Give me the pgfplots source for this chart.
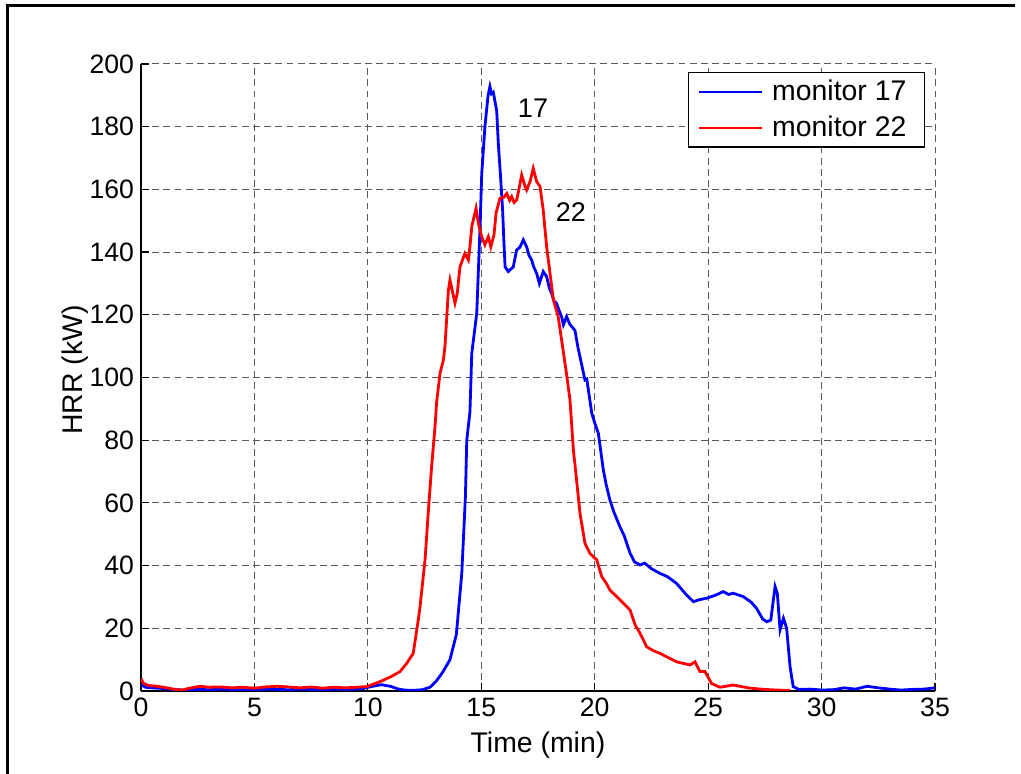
\documentclass[border=0pt]{standalone}
\usepackage{pgfplots}
\pgfplotsset{compat=1.18}
\usepackage{fontspec}
\setmainfont{Liberation Sans}
\begin{document}
\begin{tikzpicture}
\useasboundingbox (0,0) rectangle (510.5pt,387pt);
\draw[line width=1.5pt] (3.5pt,0pt) -- (3.5pt,384.2pt) -- (507.5pt,384.2pt);
\begin{axis}[
  at={(70.5pt,41.5pt)}, anchor=south west,
  scale only axis, width=397pt, height=313.5pt,
  xmin=0, xmax=35, ymin=0, ymax=200,
  xtick={0,5,...,35}, ytick={0,20,...,200},
  axis x line*=bottom, axis y line*=left,
  axis line style={line width=0.75pt, black},
  tick style={line width=0.6pt, black},
  tick align=inside, major tick length=4pt,
  grid=major,
  major grid style={dash pattern=on 3.4pt off 2.2pt, black!65, line width=0.5pt},
  /pgf/number format/assume math mode=true,
  tick label style={font=\fontsize{13.3}{15}\selectfont},
  label style={font=\fontsize{14.2}{16}\selectfont},
  xlabel={Time (min)}, ylabel={HRR (kW)},
  xlabel style={at={(axis description cs:0.5,-0.086)}, anchor=center},
  ylabel style={at={(axis description cs:-0.083,0.512)}, anchor=center, rotate=0},
  legend style={at={(axis description cs:0.9874,0.987)}, anchor=north east,
    font=\fontsize{14.2}{16}\selectfont, draw=black, line width=0.6pt,
    inner xsep=4.5pt, inner ysep=0.6pt, row sep=0pt,
    nodes={inner xsep=4.5pt, inner ysep=3.1pt}},
  legend cell align=left,
  legend image code/.code={\path (-2.5pt,0pt) -- (29pt,0pt);\draw[#1, line width=1.4pt] (0pt,0pt) -- (25pt,0pt);},
  every axis plot/.append style={line width=1.4pt},
]
\addplot[blue] coordinates {
(0,2.0) (0.2,1.2) (0.5,1.0) (1.0,0.8) (1.5,0.4) (2.0,0.3) (2.5,0.5) (3.0,0.4)
(3.5,0.6) (4.0,0.5) (4.5,0.4) (5.0,0.3) (5.5,0.6) (6.0,0.5) (6.5,0.4) (7.0,0.6)
(7.5,0.5) (8.0,0.4) (8.5,0.6) (9.0,0.5) (9.5,0.6) (9.8,0.8) (10.2,1.5) (10.6,2.0)
(11.0,1.5) (11.3,0.7) (11.6,0.3) (12.0,0.2) (12.4,0.4) (12.74,1.2) (13.0,3) (13.3,6)
(13.62,10) (13.9,18) (14.14,37.5) (14.3,62) (14.36,80) (14.5,89) (14.58,107.7)
(14.8,120.5) (14.94,147) (15.02,165) (15.16,180) (15.3,190) (15.38,192.8) (15.45,190.5) (15.53,191)
(15.68,185) (15.75,174.7) (15.85,164) (15.94,153.4) (16.0,142.8) (16.05,135.3)
(16.19,133.8) (16.41,135.3) (16.56,140.7) (16.7,141.5) (16.85,143.9) (17.0,141.7) (17.1,139) (17.22,137.5)
(17.3,135.5) (17.44,133.2) (17.56,130) (17.73,133.8) (17.88,132.2) (18.0,128.5) (18.1,126.8) (18.2,124.5) (18.32,123.6)
(18.45,121) (18.54,119.4) (18.62,116.8) (18.76,119.4) (18.9,117) (19.13,115) (19.25,110) (19.35,106.6) (19.57,99.2)
(19.65,99.5) (19.87,88.6) (20.0,85.5) (20.16,82.2) (20.38,70.5) (20.5,66) (20.67,60.9) (20.85,57) (21.11,52.4) (21.3,49.5) (21.56,43.9)
(21.75,41.2) (22.0,40.2) (22.2,40.8) (22.5,39) (22.88,37.5) (23.2,36.5) (23.61,34.3) (24.0,31) (24.35,28.5) (24.6,29.1) (24.94,29.6)
(25.3,30.5) (25.67,31.7) (25.9,30.8) (26.1,31.2) (26.55,30.1) (26.9,28.3) (27.14,26.3) (27.4,23.0) (27.58,22.1) (27.76,22.6)
(27.95,33.3) (28.05,31.1) (28.17,19.5) (28.32,23.2) (28.46,20) (28.61,7.8) (28.75,1.4)
(29.0,0.5) (29.5,0.6) (30.0,0.3) (30.5,0.4) (31.0,1.0) (31.5,0.6) (32.0,1.5) (32.5,1.0)
(33.0,0.6) (33.5,0.3) (34.0,0.5) (34.5,0.6) (35.0,1.0)
};
\addlegendentry{monitor 17}
\addplot[red] coordinates {
(0,4) (0.1,2.5) (0.3,1.8) (0.7,1.5) (1.0,1.2) (1.5,0.5) (1.8,0.3) (2.2,1.0) (2.6,1.5)
(3.0,1.2) (3.5,1.3) (4.0,1.0) (4.5,1.2) (5.0,0.9) (5.5,1.3) (6.0,1.5) (6.5,1.3)
(7.0,1.0) (7.5,1.3) (8.0,0.9) (8.5,1.2) (9.0,1.0) (9.5,1.2) (9.95,1.4) (10.54,3)
(11.0,4.5) (11.42,6.2) (11.71,8.8) (12.0,12) (12.22,22.6) (12.3,26.9) (12.52,41.8)
(12.66,56.7) (12.81,71.5) (12.96,84.3) (13.03,92) (13.18,101.3) (13.33,105.6)
(13.4,110) (13.55,127.9) (13.62,131.1) (13.84,123.7) (13.94,126.8) (14.06,135.3)
(14.28,139.6) (14.43,137.5) (14.5,141.7) (14.58,148.1) (14.77,154) (14.87,149.2)
(15.02,144.9) (15.16,142.3) (15.31,144.9) (15.42,141.7) (15.56,145.5) (15.65,152.4)
(15.82,157.1) (16.0,157.5) (16.12,158.7) (16.25,156.5) (16.34,157.7) (16.45,155.8) (16.56,156.6) (16.71,161.9) (16.78,164.6)
(16.93,160.9) (17.0,159.8) (17.15,162.5) (17.29,166.7) (17.44,162.5) (17.59,160.9)
(17.73,153.4) (17.88,141.7) (18.03,133.2) (18.18,124.7) (18.39,119.4) (18.54,112)
(18.76,101) (18.91,92.8) (19.06,76.9) (19.2,67.3) (19.35,56.7) (19.57,47.1)
(19.79,43.9) (20.09,41.8) (20.31,36.5) (20.5,34.5) (20.67,32.2) (20.97,30.1) (21.26,28)
(21.56,25.8) (21.78,21.1) (22.0,18.4) (22.29,14.1) (22.6,12.8) (22.88,12) (23.25,10.6) (23.61,9.3) (24.2,8.3)
(24.42,9.3) (24.64,6.2) (24.86,6.2) (25.15,2.4) (25.52,1.2) (26.1,1.9) (26.85,0.9)
(27.5,0.5) (28.0,0.3) (28.6,0.2)
};
\addlegendentry{monitor 22}
\node[font=\fontsize{13.5}{15}\selectfont] at (axis cs:17.28,186) {17};
\node[font=\fontsize{13.5}{15}\selectfont] at (axis cs:18.95,152.8) {22};
\end{axis}
\end{tikzpicture}
\end{document}
